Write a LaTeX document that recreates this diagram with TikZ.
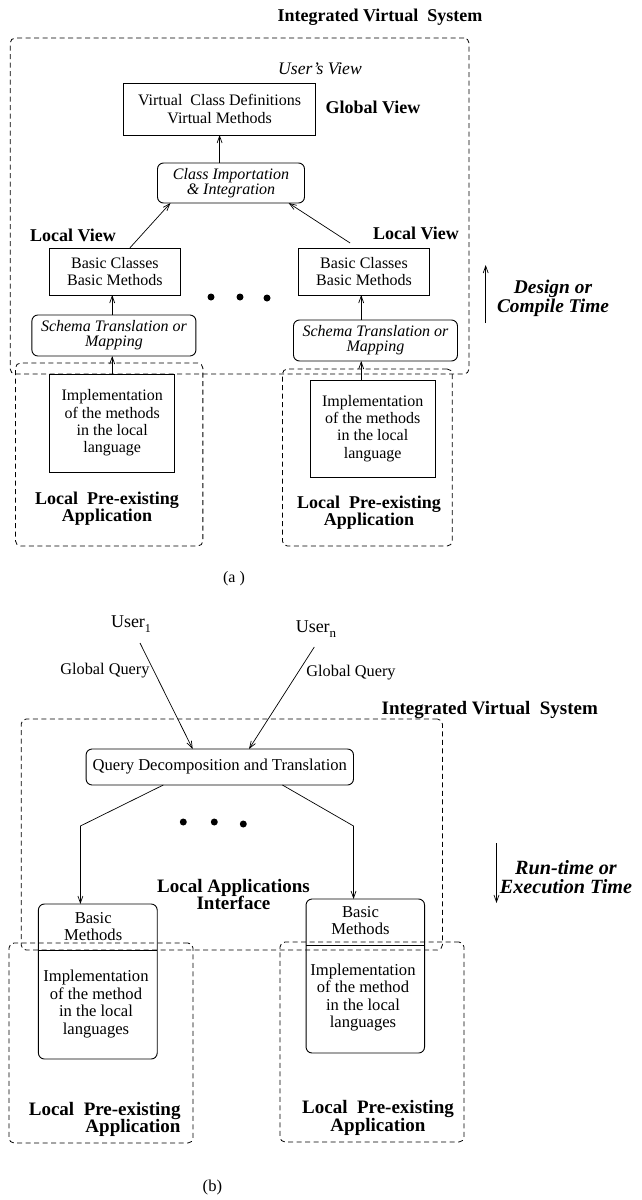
\documentclass[tikz,border=0pt]{standalone}
\usepackage{fontspec}
\setmainfont{Liberation Serif}
\usetikzlibrary{arrows.meta,calc}

\begin{document}
\begin{tikzpicture}[x=1pt,y=-1pt,
  every node/.style={inner sep=0pt,outer sep=0pt},
  txta/.style={font=\fontsize{16}{17.3}\selectfont,align=center},
  txtb/.style={font=\fontsize{16.6}{17.6}\selectfont,align=center},
  itxt/.style={font=\fontsize{16}{15}\selectfont\itshape,align=center},
  lbla/.style={font=\fontsize{18}{17.5}\selectfont\bfseries,align=center},
  lblb/.style={font=\fontsize{19}{17.5}\selectfont\bfseries,align=center},
  tlbl/.style={font=\fontsize{19.8}{17.5}\selectfont\bfseries\itshape,align=center},
  sbox/.style={draw,line width=0.9pt},
  rbox/.style={draw,line width=0.9pt,rounded corners=6pt},
  dbox/.style={draw,line width=0.8pt,dash pattern=on 5pt off 3.5pt,rounded corners=5pt},
  arr/.style={line width=0.7pt,-{Straight Barb[length=7pt,width=5pt]}},
  bigdot/.style={circle,fill,minimum size=7pt},
]
\useasboundingbox (0,0) rectangle (641,1200);

% ---------------- (a) design / compile time ----------------
\node[lbla] (ivsA) at (380,17) {Integrated Virtual~~System};
\node[dbox,minimum width=458.8pt,minimum height=336pt] (ivsBoxA) at (239.6,206) {};
\node[font=\fontsize{17.6}{17}\selectfont\itshape] (usersView) at (320,69) {User's View};

\node[sbox,txta,minimum width=192.6pt,minimum height=52pt] (virtA) at (219.6,109)
  {Virtual~~Class Definitions\\Virtual Methods};
\node[lbla] (globalView) at (373,107) {Global View};

\node[rbox,itxt,minimum width=147pt,minimum height=40pt] (classImp) at (231,183)
  {Class Importation\\\& Integration};

\node[lbla] (localViewL) at (73,235) {Local View};
\node[lbla] (localViewR) at (416,233) {Local View};

\node[sbox,txta,minimum width=130.2pt,minimum height=47pt] (basicL) at (114.9,271.5)
  {Basic Classes\\Basic Methods};
\node[sbox,txta,minimum width=130.6pt,minimum height=47pt] (basicR) at (364,271.5)
  {Basic Classes\\Basic Methods};

\node[bigdot] (dotA1) at (211,297) {};
\node[bigdot] (dotA2) at (240,297) {};
\node[bigdot] (dotA3) at (267,298) {};

\node[rbox,itxt,minimum width=164pt,minimum height=41pt] (schemaL) at (113.9,335.5)
  {Schema Translation or\\Mapping};
\node[rbox,itxt,minimum width=164pt,minimum height=41pt] (schemaR) at (375.5,340.5)
  {Schema Translation or\\Mapping};

\node[dbox,minimum width=187.3pt,minimum height=183pt] (appL) at (109.2,454.5) {};
\node[dbox,minimum width=169.8pt,minimum height=177pt] (appR) at (367.3,457.5) {};

\node[sbox,txta,minimum width=124.9pt,minimum height=98pt] (implL) at (112.2,423)
  {Implementation\\of the methods\\in the local\\language};
\node[sbox,txta,minimum width=124.9pt,minimum height=97pt] (implR) at (372.7,428.5)
  {Implementation\\of the methods\\in the local\\language};

\node[lbla] (appLabelL) at (107,508.5) {Local~~Pre-existing\\Application};
\node[lbla] (appLabelR) at (369,512.5) {Local~~Pre-existing\\Application};

\node[txta] (capA) at (234,579) {(a )};

% connectors of (a)
\draw[arr] (virtA.south |- classImp.north) -- (virtA.south);
\draw[arr] ($(basicL.north west)+(80,0)$) -- ($(classImp.south west)+(13,0)$);
\draw[arr] ($(basicR.north west)+(51.4,-5)$) -- ($(classImp.south east)+(-15.9,0)$);
\draw[arr] (implL.north) -- (implL.north |- schemaL.south);
\draw[arr] (implL.north |- schemaL.north) -- (implL.north |- basicL.south);
\coordinate (colR) at ($(basicR.south)+(-2.8,0)$);
\draw[arr] (colR |- implR.north) -- (colR |- schemaR.south);
\draw[arr] (colR |- schemaR.north) -- (colR);

% time axis of (a)
\coordinate (designBot) at (485.7,323);
\coordinate (designTop) at (485.7,265);
\draw[arr] (designBot) -- (designTop);
\node[tlbl,font=\fontsize{19.4}{17}\selectfont\bfseries\itshape] (designTxt) at (553,298.5) {Design or\\Compile Time};

% ---------------- (b) run time / execution time ----------------
\node[font=\fontsize{18}{18}\selectfont] (user1) at (131,624)
  {User\raisebox{-4.5pt}{\fontsize{12}{12}\selectfont 1}};
\node[font=\fontsize{18}{18}\selectfont] (userN) at (316,629)
  {User\raisebox{-4.5pt}{\fontsize{13}{13}\selectfont n}};
\node[font=\fontsize{16.3}{17}\selectfont] (gqL) at (104.9,671) {Global Query};
\node[font=\fontsize{16.3}{17}\selectfont] (gqR) at (351,673) {Global Query};

\node[lblb] (ivsB) at (489.8,710) {Integrated Virtual~~System};
\node[dbox,minimum width=421.2pt,minimum height=231pt] (ivsBoxB) at (231.8,834.5) {};

\node[rbox,txtb,minimum width=267.4pt,minimum height=36pt] (query) at (219.8,767)
  {Query Decomposition and Translation};

\draw[arr] ($(user1.center)+(9,19)$) -- ($(query.north)+(-27.1,0)$);
\draw[arr] ($(userN.center)+(-1.7,18)$) -- ($(query.north)+(29.2,0)$);

\node[bigdot] (dotB1) at (183.3,822) {};
\node[bigdot] (dotB2) at (214.3,822) {};
\node[bigdot] (dotB3) at (243.3,824) {};

\node[lblb] (lai) at (233.5,894.5) {Local Applications\\Interface};

\node[dbox,minimum width=184pt,minimum height=200pt] (appLb) at (101,1043) {};
\node[dbox,minimum width=184pt,minimum height=200pt] (appRb) at (372,1042) {};

\node[rbox,minimum width=118.8pt,minimum height=155pt] (bmL) at (97.8,981.5) {};
\node[rbox,minimum width=118.5pt,minimum height=154pt] (bmR) at (365.3,976) {};
\draw[line width=0.9pt] ($(bmL.north west)+(0,46)$) -- ($(bmL.north east)+(0,46)$);
\draw[line width=0.9pt] ($(bmR.north west)+(0,46.7)$) -- ($(bmR.north east)+(0,46.7)$);
\node[txtb] (bmLtop) at (93.2,926.5) {Basic\\Methods};
\node[txtb] (bmLimp) at (96,1004) {Implementation\\of the method\\in the local\\languages};
\node[txtb] (bmRtop) at (360.5,920.5) {Basic\\Methods};
\node[txtb] (bmRimp) at (363,997.5) {Implementation\\of the method\\in the local\\languages};

\draw[arr] ($(query.south west)+(77.2,0)$) -- ($(bmL.north west)+(42,-78)$) -- ($(bmL.north west)+(42,0)$);
\draw[arr] ($(query.south west)+(196.3,0)$) -- ($(bmR.north west)+(47.5,-73)$) -- ($(bmR.north west)+(47.5,0)$);

\node[lblb,align=right,anchor=east] (appLabelLb) at (180.5,1119.5) {Local~~Pre-existing\\Application};
\node[lblb] (appLabelRb) at (378,1118) {Local~~Pre-existing\\Application};

% time axis of (b)
\coordinate (runTop) at (496.5,843);
\coordinate (runBot) at (496.5,903);
\draw[arr] (runTop) -- (runBot);
\node[tlbl,font=\fontsize{20.2}{19}\selectfont\bfseries\itshape] (runTxt) at (566,877.5) {Run-time or\\Execution Time};

\node[txtb] (capB) at (212.4,1187) {(b)};
\end{tikzpicture}
\end{document}
